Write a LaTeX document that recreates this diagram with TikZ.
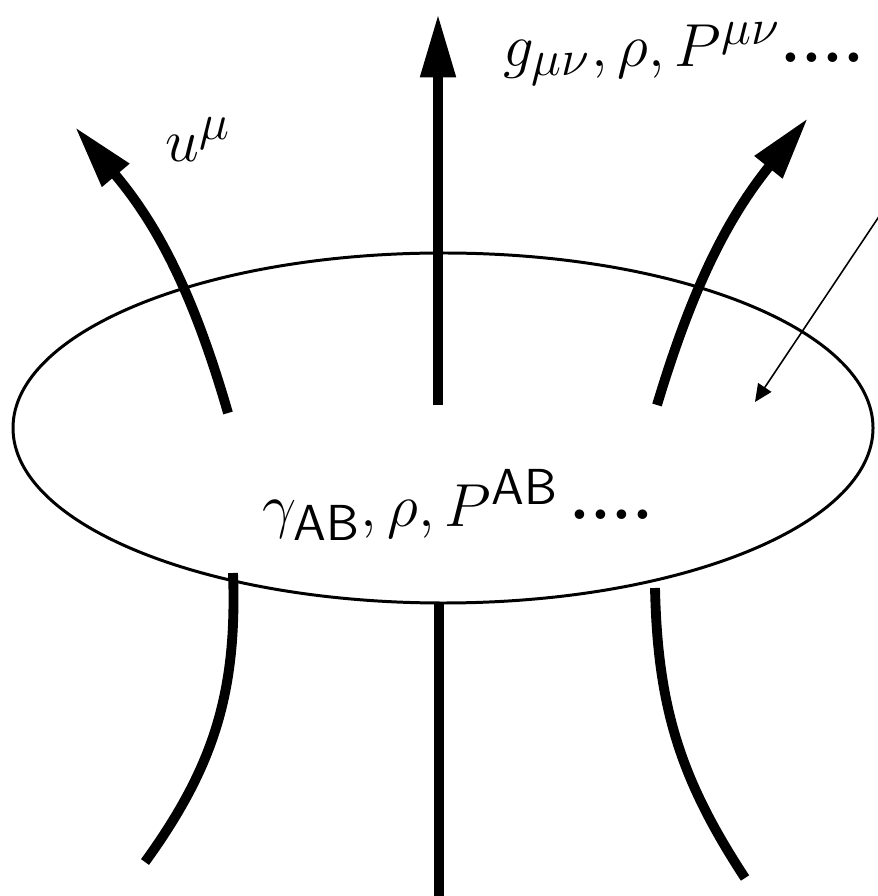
\documentclass[tikz,border=0pt]{standalone}
\usepackage{amsmath,amssymb}
\usetikzlibrary{arrows.meta,shapes.geometric,positioning}

\begin{document}
\begin{tikzpicture}[
  flow/.style={line width=2.8pt, -{Triangle[length=18pt,width=9.5pt]}},
  stub/.style={line width=2.8pt},
  lbl/.style={font=\fontsize{19}{23}\selectfont, inner sep=0pt}]
\useasboundingbox (0,0) rectangle (8.77,-8.96);
% the surface
\node[draw, ellipse, line width=0.85pt, minimum width=8.6cm, minimum height=3.5cm] (surf) at (4.43,-4.28) {};
\node[lbl] (gam) at (4.58,-5.05) {$\gamma_{\mathsf{AB}},\rho,P^{\mathsf{AB}}$\,\raisebox{2pt}{\textbf{....}}};
% end points of the flow lines
\coordinate (lin) at (2.28,-4.13);  \coordinate (lout) at (0.75,-1.27);
\coordinate (cin) at (4.38,-4.05);  \coordinate (cout) at (4.38,-0.14);
\coordinate (rin) at (6.57,-4.05);  \coordinate (rout) at (8.08,-1.18);
\coordinate (lb) at (2.33,-5.73);   \coordinate (lbe) at (1.45,-8.62);
\coordinate (cb) at (4.39,-6.03);   \coordinate (cbe) at (4.39,-8.96);
\coordinate (rb) at (6.55,-5.88);   \coordinate (rbe) at (7.45,-8.78);
\draw[flow] (lin) to[bend right=12] (lout);
\draw[flow] (cin) -- (cout);
\draw[flow] (rin) to[bend left=11] (rout);
\draw[stub] (lb) to[bend left=19] (lbe);
\draw[stub] (cb) -- (cbe);
\draw[stub] (rb) to[bend right=16] (rbe);
% labels
\node[lbl] (u) at (1.98,-1.40) {$u^{\mu}$};
\node[lbl] (g) at (6.84,-0.54) {$g_{\mu\nu},\rho,P^{\mu\nu}$\raisebox{1pt}{\textbf{....}}};
% pointer to the surface
\coordinate (ptr) at (8.80,-2.15);
\draw[line width=0.45pt, -{Triangle[length=5pt,width=4.5pt]}] (ptr) -- (7.55,-4.02);
\end{tikzpicture}
\end{document}
